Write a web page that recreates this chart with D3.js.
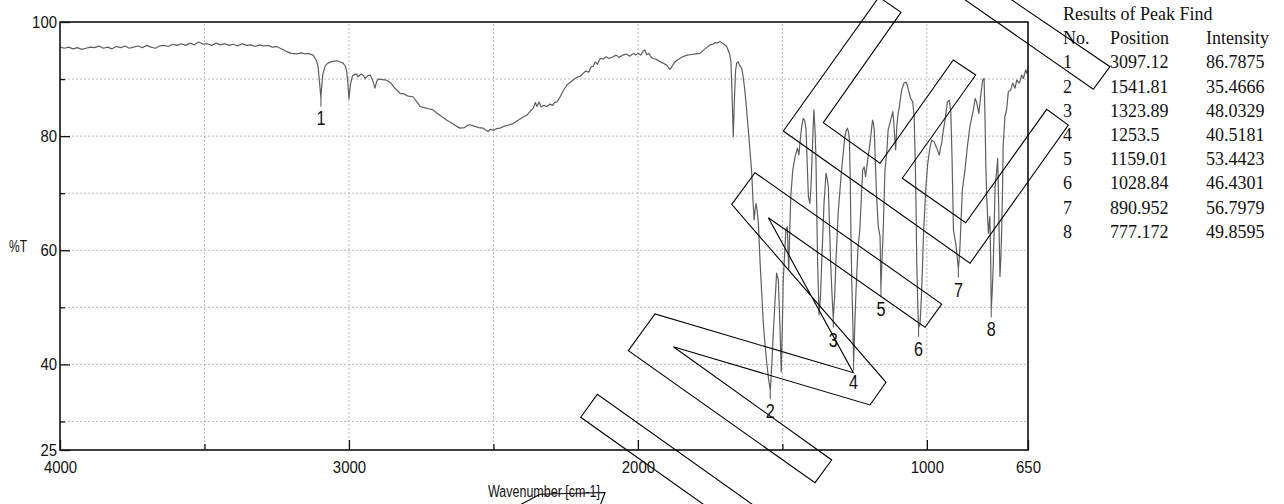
<!DOCTYPE html>
<html><head><meta charset="utf-8">
<script src="https://cdn.jsdelivr.net/npm/d3@7"></script>
<style>
html,body{margin:0;padding:0;background:#fff;}
svg{display:block;}
</style></head><body>
<svg id="chart" width="1284" height="504"></svg>
<script>
// ---- DATA ----
// IR spectrum: [wavenumber cm-1, %T]
const spectrum = [
[4000,95.6],[3985,95.4],[3970,95.6],[3955,95.3],[3940,95.5],[3925,95.2],[3910,95.4],[3895,95.6],[3880,95.5],[3865,95.8],
[3850,95.4],[3835,95.6],[3820,95.3],[3805,95.7],[3790,95.5],[3775,95.8],[3760,95.4],[3745,95.6],[3730,95.8],[3715,95.5],
[3700,95.9],[3685,95.6],[3670,95.4],[3655,95.8],[3640,95.9],[3625,95.7],[3610,96.1],[3595,95.9],[3580,96.2],[3565,95.9],
[3550,96.3],[3535,96.0],[3520,96.5],[3505,96.1],[3490,96.2],[3475,95.9],[3460,96.3],[3445,96.0],[3430,96.2],[3415,95.9],
[3400,96.1],[3385,95.8],[3370,96.2],[3355,95.9],[3340,96.0],[3325,95.7],[3310,96.0],[3295,95.8],[3280,95.9],[3265,95.6],
[3250,95.7],[3238,95.4],[3225,95.1],[3215,94.8],[3200,94.5],[3181,94.4],[3165,94.6],[3150,94.4],[3142,94.5],[3124,94.2],
[3112,93.2],[3107,92.2],[3102,89.5],[3097.12,86.79],[3093,89.5],[3090,91.0],[3082,92.3],[3073,92.8],[3058,93.1],[3042,93.2],
[3030,93.0],[3020,92.8],[3012,92.2],[3008,91.3],[3004,89.5],[3000,86.5],[2996,88.5],[2994,89.3],[2988,90.5],[2985,90.7],
[2975,90.9],[2968,90.4],[2958,90.9],[2950,90.6],[2944,90.1],[2935,90.6],[2927,90.7],[2918,89.8],[2910,88.4],[2904,89.6],
[2898,90.0],[2885,89.9],[2870,89.8],[2855,89.3],[2841,88.4],[2832,88.0],[2823,87.5],[2810,87.4],[2795,87.0],[2778,86.9],
[2765,86.0],[2754,85.2],[2740,85.0],[2725,84.8],[2709,84.6],[2695,84.0],[2680,83.5],[2661,82.8],[2645,82.3],[2630,81.8],
[2616,81.4],[2600,81.5],[2590,81.9],[2581,82.0],[2565,81.7],[2550,81.5],[2536,81.4],[2528,81.1],[2519,80.8],[2510,81.2],
[2500,81.0],[2490,81.3],[2477,81.4],[2465,81.7],[2450,81.9],[2432,82.2],[2420,82.6],[2405,83.1],[2395,83.4],[2384,83.7],
[2372,84.4],[2362,84.9],[2355,85.9],[2349,85.2],[2342,86.0],[2335,85.1],[2325,85.4],[2315,85.2],[2305,85.6],[2295,85.4],
[2288,85.9],[2280,86.0],[2270,86.8],[2258,88.0],[2245,89.0],[2235,89.4],[2225,89.8],[2212,90.3],[2200,90.5],[2190,91.0],
[2180,91.4],[2170,91.2],[2162,92.2],[2155,92.2],[2148,93.0],[2140,92.6],[2131,93.6],[2120,93.5],[2110,93.9],[2100,93.6],
[2086,93.9],[2075,94.2],[2065,93.8],[2052,94.2],[2040,94.4],[2028,94.0],[2015,94.5],[2008,94.2],[2000,94.5],[1990,94.2],
[1982,94.9],[1976,95.1],[1970,94.3],[1962,94.5],[1955,93.9],[1948,93.6],[1938,93.5],[1925,93.1],[1913,92.8],[1900,92.4],
[1889,91.7],[1880,92.4],[1872,93.0],[1865,93.3],[1855,93.6],[1845,93.9],[1830,94.2],[1815,94.3],[1800,94.4],[1785,94.5],
[1770,95.2],[1760,95.6],[1750,96.0],[1740,96.1],[1733,96.4],[1725,96.3],[1716,96.6],[1708,96.3],[1699,96.0],[1693,95.7],
[1688,95.1],[1682,94.3],[1678,93.0],[1674,87.0],[1670,79.9],[1666,86.5],[1662,91.5],[1658,92.8],[1653,93.0],[1648,92.4],
[1641,91.9],[1636,90.5],[1630,88.1],[1624,84.8],[1618,81.1],[1612,77.4],[1606,73.5],[1602,69.0],[1598,65.3],[1594,67.3],
[1591,68.2],[1587,66.8],[1583,64.7],[1577,57.7],[1571,52.0],[1566,47.2],[1560,43.5],[1554,40.2],[1548,37.5],[1541.81,35.47],
[1536,40.5],[1531,46.0],[1525,51.5],[1520,56.0],[1514,54.8],[1508,46.0],[1504,38.7],[1500,47.0],[1497,54.8],[1492,59.5],
[1488,63.6],[1483,64.1],[1478,56.5],[1475,62.5],[1471,69.4],[1464,74.1],[1456,76.4],[1448,77.9],[1443,76.7],[1438,79.5],
[1433,81.7],[1428,83.1],[1423,82.8],[1418,81.1],[1414,75.0],[1410,69.4],[1405,68.2],[1401,71.0],[1398,75.2],[1394,81.0],
[1391,84.6],[1387,81.0],[1384,76.4],[1381,67.0],[1378,57.7],[1373,48.7],[1368,52.0],[1364,57.7],[1360,63.0],[1356,68.2],
[1349,73.5],[1345,72.5],[1341,71.1],[1337,64.5],[1333,57.7],[1328,52.0],[1323.89,48.03],[1319,52.0],[1315,57.7],[1307,66.5],
[1300,71.0],[1295,74.1],[1289,77.2],[1284,79.9],[1279,80.9],[1275,81.4],[1271,80.7],[1268,79.3],[1265,72.0],[1263,63.6],
[1260,55.0],[1257,49.0],[1253.5,40.52],[1250,46.0],[1246,51.9],[1242,56.5],[1238,60.6],[1232,63.6],[1227,69.0],[1222,74.1],
[1217,74.6],[1212,72.9],[1208,74.5],[1205,75.8],[1197,78.7],[1192,81.0],[1188,82.8],[1185,82.3],[1182,81.1],[1178,75.0],
[1174,69.4],[1168,64.1],[1162,62.4],[1159.01,53.44],[1155,58.5],[1151,63.6],[1145,74.1],[1139,77.0],[1134,81.1],[1125,82.8],
[1118,84.3],[1115,82.8],[1113,81.1],[1108,77.6],[1104,81.7],[1100,83.8],[1095,85.2],[1091,86.8],[1087,88.1],[1079,89.3],
[1072,89.5],[1068,89.0],[1064,88.1],[1056,86.6],[1049,86.0],[1044,83.4],[1040,75.2],[1037,66.0],[1035,57.7],[1032,51.5],
[1028.84,46.43],[1024,47.0],[1021,49.5],[1018,53.0],[1015,57.5],[1012,62.4],[1008,66.5],[1004,70.6],[997,75.2],[989,78.1],
[983,79.3],[975,79.0],[966,77.9],[957,76.7],[953,77.9],[949,78.7],[943,81.0],[937,82.8],[929,86.0],[922,86.3],
[917,84.0],[913,76.4],[910,69.0],[908,63.6],[904,62.3],[900,61.2],[895,58.8],[890.952,56.80],[888,58.5],[885,61.2],
[881,66.0],[877,70.6],[868,74.1],[860,78.1],[851,81.7],[845,83.2],[839,84.6],[833,86.6],[828,86.0],[820,84.0],
[814,86.9],[807,89.8],[802,90.1],[800,86.0],[798,81.1],[796,75.0],[793,69.4],[787,63.0],[782,65.9],[779,58.0],
[777.172,49.86],[774,52.5],[770,57.7],[767,64.0],[764,71.1],[758,74.1],[755,76.1],[752,69.4],[749,60.5],[747,55.4],
[744,58.5],[741,63.6],[738,71.0],[736,78.1],[730,83.4],[724,84.6],[718,87.8],[710,88.1],[703,89.3],[695,88.4],
[689,89.8],[680,89.3],[672,90.7],[666,90.1],[658,91.6],[654,91.0],[650,91.9]
];

const peakNo = [1,2,3,4,5,6,7,8];
const peakPosition = ["3097.12","1541.81","1323.89","1253.5","1159.01","1028.84","890.952","777.172"];
const peakIntensity = ["86.7875","35.4666","48.0329","40.5181","53.4423","46.4301","56.7979","49.8595"];

const xMajorTicks = [4000,3000,2000,1000,650];
const xMinorTicks = [3500,2500,1500];
const yMajorTicks = [100,80,60,40,25];
const yMinorTicks = [90,70,50,30];
const xGridValues = [3500,3000,2500,2000,1500,1000];
const yGridValues = [90,80,70,60,50,40,30];

const xTitle = "Wavenumber [cm-1]";
const yTitle = "%T";
const tableTitle = "Results of Peak Find";
const tableHeader = ["No.","Position","Intensity"];

// Outline overlay shapes, in data units [wavenumber, %T]
const overlayE = [[1496.8,80.90],[1165.7,104.38],[1089.5,101.70],[1358.4,82.35],[1162.2,75.24],[908.5,93.34],
  [831.0,90.71],[1085.0,72.61],[865.6,64.83],[585.3,84.70],[510.5,81.95],[850.7,57.72]];
const overlayN = [[1675.4,68.05],[1594.8,73.59],[948.7,50.58],[1006.5,46.50],[1548.7,65.71],[1254.6,38.55],
  [1940.9,48.83],[2033.2,42.40],[1387.1,19.27],[1329.3,23.25],[1877.5,43.10],[1196.8,32.89],[1141.4,36.86]];
const overlayBar = [[1599.3,9.23],[2198.0,30.73],[2140.5,34.76],[1430.4,9.23]];
const overlayTop = [[1065.3,110.86],[424.0,88.21],[366.2,92.17],[909.6,110.86]];
const overlayLow = [[2415,15.19],[2338.8,17.24],[2113.9,17.55],[2131.2,15.19]];

// ---- DRAW ----
const svg = d3.select('#chart');
const x = d3.scaleLinear().domain([4000,650]).range([60,1028]);
const y = d3.scaleLinear().domain([25,100]).range([450,22]);
const sans = "'Liberation Sans', Arial, sans-serif";
const serif = "'Liberation Serif', 'Times New Roman', serif";

// grid
const grid = svg.append('g');
grid.selectAll('line.gx').data(xGridValues).join('line').attr('class','gx')
  .attr('x1',d=>x(d)).attr('x2',d=>x(d)).attr('y1',y(25)).attr('y2',y(100))
  .attr('stroke','#b8b8b8').attr('stroke-width',1).attr('stroke-dasharray','2,2');
grid.selectAll('line.gy').data(yGridValues).join('line').attr('class','gy')
  .attr('x1',x(4000)).attr('x2',x(650)).attr('y1',d=>y(d)).attr('y2',d=>y(d))
  .attr('stroke','#b8b8b8').attr('stroke-width',1).attr('stroke-dasharray','2,2');

// spectrum
svg.append('clipPath').attr('id','plotClip').append('rect')
  .attr('x',x(4000)).attr('y',y(100)).attr('width',x(650)-x(4000)).attr('height',y(25)-y(100));
const line = d3.line().x(d=>x(d[0])).y(d=>y(d[1]));
svg.append('path').datum(spectrum).attr('d',line).attr('clip-path','url(#plotClip)')
  .attr('fill','none').attr('stroke','#5e5e5e').attr('stroke-width',1.2).attr('stroke-linejoin','round');

// axes
function styleAxis(g){
  g.select('.domain').remove();
  g.selectAll('.tick line').attr('stroke','#111').attr('stroke-width',1.3);
  g.selectAll('.tick text').attr('fill','#111').style('font-family',sans).style('font-size','16px');
}
const xAxisG = svg.append('g').attr('transform',`translate(0,${y(25)})`)
  .call(d3.axisBottom(x).tickValues(xMajorTicks).tickSize(-10).tickSizeOuter(0).tickPadding(12).tickFormat(d3.format('d')));
styleAxis(xAxisG);
xAxisG.selectAll('.tick text').attr('textLength',function(d){return String(d).length*8.3;}).attr('lengthAdjust','spacingAndGlyphs');
const xMinorG = svg.append('g').attr('transform',`translate(0,${y(25)})`)
  .call(d3.axisBottom(x).tickValues(xMinorTicks).tickSize(-6).tickSizeOuter(0).tickFormat(''));
styleAxis(xMinorG);
const yAxisG = svg.append('g').attr('transform',`translate(${x(4000)},0)`)
  .call(d3.axisLeft(y).tickValues(yMajorTicks).tickSize(-10).tickSizeOuter(0).tickPadding(3).tickFormat(d3.format('d')));
styleAxis(yAxisG);
yAxisG.selectAll('.tick text').attr('textLength',function(d){return String(d).length*8.3;}).attr('lengthAdjust','spacingAndGlyphs');
const yMinorG = svg.append('g').attr('transform',`translate(${x(4000)},0)`)
  .call(d3.axisLeft(y).tickValues(yMinorTicks).tickSize(-5).tickSizeOuter(0).tickFormat(''));
styleAxis(yMinorG);

// frame
svg.append('rect').attr('x',x(4000)).attr('y',y(100)).attr('width',x(650)-x(4000)).attr('height',y(25)-y(100))
  .attr('fill','none').attr('stroke','#111').attr('stroke-width',1.6);

// axis titles
svg.append('text').attr('x',488).attr('y',497).text(xTitle)
  .style('font-family',sans).style('font-size','16px').attr('fill','#111')
  .attr('textLength',112).attr('lengthAdjust','spacingAndGlyphs');
svg.append('text').attr('x',9).attr('y',252).text(yTitle)
  .style('font-family',sans).style('font-size','16px').attr('fill','#111')
  .attr('textLength',18).attr('lengthAdjust','spacingAndGlyphs');

// peak markers
const peaks = peakNo.map((n,i)=>({n, w:+peakPosition[i], t:+peakIntensity[i]}));
const pg = svg.append('g');
pg.selectAll('line').data(peaks).join('line')
  .attr('x1',d=>x(d.w)).attr('x2',d=>x(d.w)).attr('y1',d=>y(d.t)).attr('y2',d=>y(d.t)+9)
  .attr('stroke','#5e5e5e').attr('stroke-width',1.1);
pg.selectAll('text').data(peaks).join('text')
  .attr('x',d=>x(d.w)).attr('y',d=>y(d.t)+28).attr('text-anchor','middle').text(d=>d.n)
  .style('font-family',sans).style('font-size','20px').attr('fill','#111')
  .attr('textLength',9).attr('lengthAdjust','spacingAndGlyphs');

// peak table
const tg = svg.append('g').style('font-family',serif).style('font-size','18px').attr('fill','#111');
tg.append('text').attr('x',1063).attr('y',19.5).text(tableTitle);
const colX = [1063,1110,1206];
tableHeader.forEach((h,i)=>tg.append('text').attr('x',colX[i]).attr('y',44.3).text(h));
peaks.forEach((p,i)=>{
  const yy = 68.3 + i*24.2;
  tg.append('text').attr('x',colX[0]).attr('y',yy).text(p.n);
  tg.append('text').attr('x',colX[1]).attr('y',yy).text(peakPosition[i]);
  tg.append('text').attr('x',colX[2]).attr('y',yy).text(peakIntensity[i]);
});

// outline overlay
const og = svg.append('g').attr('fill','none').attr('stroke','#000').attr('stroke-width',1.1);
const closed = d3.line().x(d=>x(d[0])).y(d=>y(d[1])).curve(d3.curveLinearClosed);
const open = d3.line().x(d=>x(d[0])).y(d=>y(d[1]));
og.append('path').attr('d',closed(overlayE));
og.append('path').attr('d',closed(overlayN));
og.append('path').attr('d',open(overlayBar));
og.append('path').attr('d',open(overlayTop));
og.append('path').attr('d',open(overlayLow));
</script>
</body></html>
